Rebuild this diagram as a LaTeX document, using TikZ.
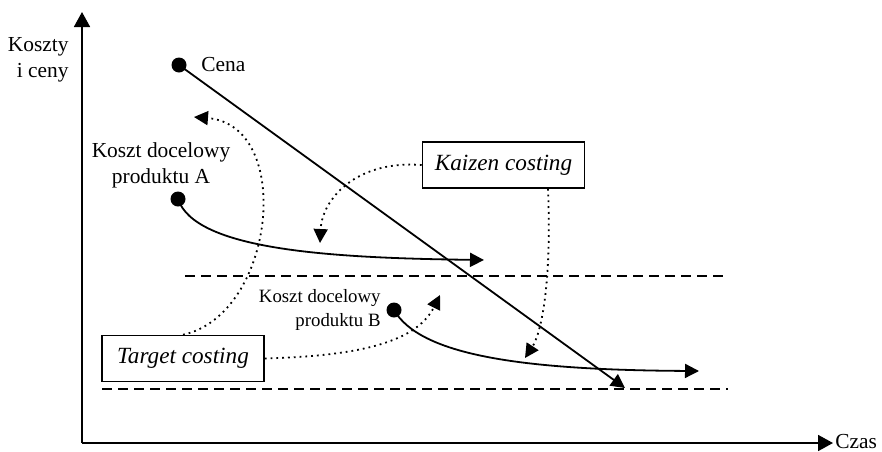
\documentclass[tikz,border=0pt]{standalone}
\usepackage{fontspec}
\setmainfont{Liberation Serif}
\usepackage{tikz}
\usetikzlibrary{calc}
\usetikzlibrary{positioning}
\usetikzlibrary{arrows.meta}

\tikzset{
  pt/.style={circle,fill=black,inner sep=0pt,minimum size=7.5pt},
  axis/.style={line width=0.9pt,-{Triangle[length=7.5pt,width=8pt]}},
  trend/.style={line width=0.9pt,-{Triangle[length=7pt,width=7pt]}},
  hint/.style={dotted,line width=0.9pt,-{Triangle[length=7pt,width=7pt]}},
  level/.style={dashed,dash pattern=on 5pt off 3pt,line width=0.8pt},
  method/.style={draw,line width=0.8pt,inner sep=0pt,minimum width=81pt,minimum height=23pt,font=\fontsize{11.6}{14}\itshape},
  lbl/.style={font=\fontsize{10.7}{13}\selectfont,align=right,inner sep=0pt}
}

\begin{document}
\begin{tikzpicture}[x=0.5pt,y=-0.5pt]
\useasboundingbox (0,0) rectangle (882,451);

% axes
\coordinate (origin) at (82,443);
\coordinate (ytop) at (82,12);
\coordinate (xend) at (833,443);
\draw[axis] (origin) -- (ytop);
\draw[axis] (origin) -- (xend);
\node[lbl,anchor=east] (kc) at (69,60) {Koszty\\i ceny};
\node[lbl,anchor=west] (czas) at (835,442) {Czas};

% levels
\coordinate (upl) at (185,276);
\coordinate (upr) at (728,276);
\coordinate (lol) at (102,389);
\coordinate (lor) at (728,389);
\draw[level] (upl) -- (upr);
\draw[level] (lol) -- (lor);

% price
\node[pt] (cena) at (179,65) {};
\node[lbl,anchor=west] (cenalbl) at (201,65) {Cena};
\coordinate (cenaend) at (625,388);
\draw[trend] (cena.center) -- (cenaend);

% product A
\node[pt] (pa) at (178,199) {};
\node[lbl,align=center] (palbl) at (161,165) {Koszt docelowy\\produktu A};
\coordinate (paend) at (484,260);
\draw[trend] (pa.center) .. controls (195,250) and (330,258) .. (paend);

% product B
\node[pt] (pb) at (394,310) {};
\node[lbl,font=\fontsize{9.4}{12}\selectfont,anchor=east] (pblbl) at (381,310) {Koszt docelowy\\produktu B};
\coordinate (pbend) at (699,371);
\draw[trend] (pb.center) .. controls (420,355) and (520,370) .. (pbend);

% methods
\node[method] (kaizen) at (503.5,165) {Kaizen costing};
\node[method] (target) at (183,358.5) {Target costing};
\coordinate (kz1) at (320,243);
\coordinate (kz2) at (525,358);
\coordinate (tg1) at (194,117);
\coordinate (tg2) at (440,295);
\draw[hint] (kaizen.west) .. controls (355,160) and (322,200) .. (kz1);
\draw[hint] (kaizen.south -| 548,0) .. controls (552,290) and (540,335) .. (kz2);
\draw[hint] (target.north) .. controls (275,315) and (295,125) .. (tg1);
\draw[hint] (target.east) .. controls (350,356) and (415,345) .. (tg2);
\end{tikzpicture}
\end{document}
